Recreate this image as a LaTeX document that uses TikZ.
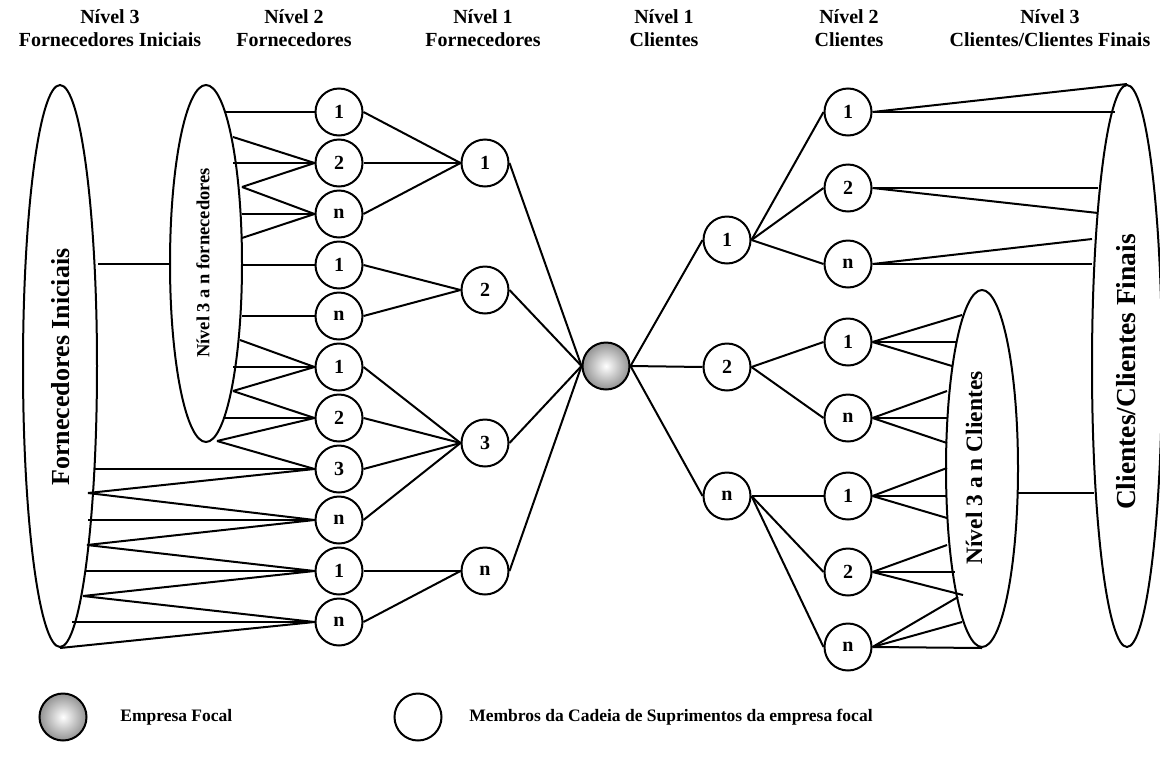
\documentclass[tikz,border=0pt]{standalone}
\usepackage{fontspec}
\setmainfont{Liberation Serif}
\usetikzlibrary{shapes.geometric}
\newcommand{\fsz}[1]{\fontsize{#1}{#1}\selectfont\bfseries}

\begin{document}
\begin{tikzpicture}[x=1pt, y=-1pt, line width=2pt,
  member/.style={circle, draw, fill=white, minimum size=47pt, inner sep=0pt, font=\fsz{20}},
  focal/.style={circle, draw, minimum size=47pt, inner sep=0pt, inner color=white, outer color=gray!85},
  tier/.style={ellipse, draw, inner sep=0pt},
  head/.style={anchor=base, font=\fsz{20}},
  tiertext/.style={rotate=90, inner sep=0pt},
  legendtext/.style={anchor=west, font=\fsz{17.5}},
]
\useasboundingbox (0,0) rectangle (1160,761);

% column headings
\node[head] (h1a) at (110,23) {Nível 3};
\node[head] (h1b) at (110,46) {Fornecedores Iniciais};
\node[head] (h2a) at (294,23) {Nível 2};
\node[head] (h2b) at (294,46) {Fornecedores};
\node[head] (h3a) at (483,23) {Nível 1};
\node[head] (h3b) at (483,46) {Fornecedores};
\node[head] (h4a) at (664,23) {Nível 1};
\node[head] (h4b) at (664,46) {Clientes};
\node[head] (h5a) at (849,23) {Nível 2};
\node[head] (h5b) at (849,46) {Clientes};
\node[head] (h6a) at (1050,23) {Nível 3};
\node[head] (h6b) at (1050,46) {Clientes/Clientes Finais};

% outer tiers
\node[tier, minimum width=74pt, minimum height=562pt] (FI) at (60,366) {};
\node[tier, minimum width=72pt, minimum height=357pt] (N3F) at (206,263.5) {};
\node[tier, minimum width=72pt, minimum height=357pt] (N3C) at (982,468.5) {};
\node[tier, minimum width=70pt, minimum height=562pt] (CF) at (1127,366) {};

\node[tiertext, font=\fsz{26}] (tFI) at (61,367) {Fornecedores Iniciais};
\node[tiertext, font=\fsz{18.5}] (tN3F) at (203,263) {Nível 3 a n fornecedores};
\node[tiertext, font=\fsz{23.5}] (tN3C) at (974,468) {Nível 3 a n Clientes};
\node[tiertext, font=\fsz{27.5}] (tCF) at (1126,372) {Clientes/Clientes Finais};

% level 2 suppliers
\foreach \i/\y/\t in {1/112/1, 2/163/2, 3/214/n, 4/265/1, 5/316/n, 6/367/1,
                      7/418/2, 8/469/3, 9/520/n, 10/571/1, 11/622/n}
  \node[member] (sA\i) at (339,\y) {\t};
% level 1 suppliers
\foreach \i/\y/\t in {1/163/1, 2/290/2, 3/443/3, 4/571/n}
  \node[member] (sB\i) at (485,\y) {\t};
% focal company
\node[focal] (F) at (606,366) {};
% level 1 clients
\foreach \i/\y/\t in {1/240/1, 2/367/2, 3/496/n}
  \node[member] (cA\i) at (727,\y) {\t};
% level 2 clients
\foreach \i/\y/\t in {1/112/1, 2/188/2, 3/264/n, 4/342/1, 5/418/n, 6/496/1, 7/572/2, 8/647/n}
  \node[member] (cB\i) at (848,\y) {\t};

% free ends on the supplier tiers
\foreach \k/\x/\y in {1/225/112, 2/233/137, 3/233/163, 4/242/187, 5/242/214, 6/242/238,
                      7/242/265, 8/242/316, 9/240/340, 10/233/367, 11/233/391, 12/225/418,
                      13/217/441, 14/95/469, 15/88/493, 16/88/520, 17/87/545, 18/85/571,
                      19/83/596, 20/72/622}
  \coordinate (e\k) at (\x,\y);
% free ends on the client tiers
\foreach \k/\x/\y in {2/1115/112, 3/1098/188, 4/1098/213, 5/1092/239, 6/1092/264,
                      7/962/315, 8/956/342, 9/952/366, 10/947/391, 11/947/418, 12/947/443,
                      13/947/468, 14/947/496, 15/947/518, 16/947/545, 17/955/572, 18/963/595,
                      19/958/597, 20/962/622}
  \coordinate (r\k) at (\x,\y);
\coordinate (n3cR) at (1017.5,493);
\coordinate (cfL) at (1094,493);

% supplier tiers to level 2 suppliers
\foreach \k/\n in {1/1, 2/2, 3/2, 4/2, 4/3, 5/3, 6/3, 7/4, 8/5, 9/6, 10/6, 11/6, 11/7,
                   12/7, 13/7, 13/8, 14/8, 15/8, 15/9, 16/9, 17/9, 17/10, 18/10,
                   19/10, 19/11, 20/11}
  \draw (e\k) -- (sA\n.west);
\draw (FI.south) -- (sA11.west);
\draw (N3F.west) -- (N3F.west -| FI.east);

% level 2 to level 1 suppliers
\foreach \a/\b in {1/1, 2/1, 3/1, 4/2, 5/2, 6/3, 7/3, 8/3, 9/3, 10/4, 11/4}
  \draw (sA\a.east) -- (sB\b.west);
% level 1 suppliers to focal company
\foreach \b in {1,...,4}
  \draw (sB\b.east) -- (F.west);
% focal company to level 1 clients
\foreach \c in {1,...,3}
  \draw (F.east) -- (cA\c.west);
% level 1 to level 2 clients
\foreach \a/\b in {1/1, 1/2, 1/3, 2/4, 2/5, 3/6, 3/7, 3/8}
  \draw (cA\a.east) -- (cB\b.west);

% level 2 clients to client tiers
\draw (cB1.east) -- (CF.north);
\foreach \n/\k in {1/2, 2/3, 2/4, 3/5, 3/6, 4/7, 4/8, 4/9, 5/10, 5/11, 5/12,
                   6/13, 6/14, 6/15, 7/16, 7/17, 7/18, 8/19, 8/20}
  \draw (cB\n.east) -- (r\k);
\draw (cB8.east) -- (N3C.south);
\draw (n3cR) -- (cfL);

% legend
\node[focal] (legF) at (63,717) {};
\node[legendtext] (legFt) at (116,717) {Empresa Focal};
\node[member] (legM) at (418,717) {};
\node[legendtext] (legMt) at (465,717) {Membros da Cadeia de Suprimentos da empresa focal};
\end{tikzpicture}
\end{document}
